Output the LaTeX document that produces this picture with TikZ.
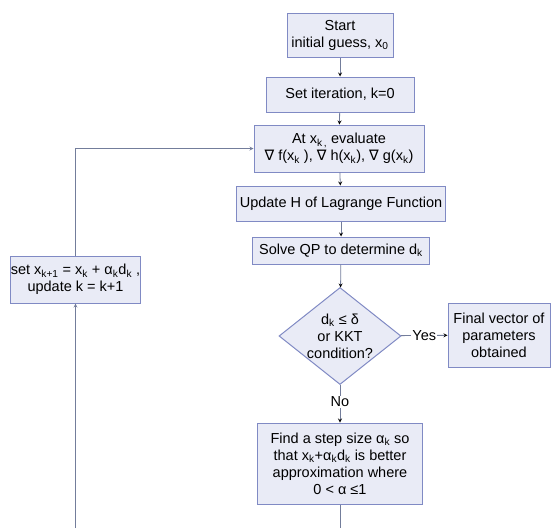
\documentclass[tikz,border=0pt]{standalone}
\usepackage{fontspec}
\setmainfont{Liberation Sans}
\newfontfamily\symfont{DejaVu Sans}
\usetikzlibrary{shapes,arrows}
\tikzset{
	->,
	>=stealth,
	x=1pt, y=-1pt,
	every node/.style={font=\fontsize{14.5}{17}\selectfont},
	process/.style={draw=boxline, line width=1pt, fill=boxfill, align=center, inner sep=0pt},
	decision/.style={diamond, draw=boxline, line width=1pt, fill=boxfill, align=center,
		inner sep=-12pt, minimum width=122pt, minimum height=97pt},
	link/.style={draw=linkcol, line width=0.8pt},
	tag/.style={fill=white, inner sep=1pt},
}
\definecolor{boxfill}{RGB}{233,235,246}
\definecolor{boxline}{RGB}{128,138,196}
\definecolor{linkcol}{RGB}{115,125,155}
\newcommand{\sbk}[1]{\textsubscript{#1}}
\newcommand{\nab}{{\symfont ∇}}

\begin{document}
\begin{tikzpicture}
	\useasboundingbox (0,0) rectangle (552,528);
	\node[process, minimum width=106pt, minimum height=44pt] (start) at (340,35) {Start\\initial guess, x\sbk{0}};
	\node[process, minimum width=148pt, minimum height=35pt] (init) at (340,94.5) {Set iteration, k=0};
	\node[process, minimum width=170pt, minimum height=47pt] (eval) at (339,148.5) {At x\sbk{k\,,} evaluate\\\nab\ f(x\sbk{k} ),\ \nab\ h(x\sbk{k}),\ \nab\ g(x\sbk{k})};
	\node[process, minimum width=209pt, minimum height=35pt] (hess) at (341,203.5) {Update H of Lagrange Function};
	\node[process, minimum width=177pt, minimum height=27pt] (qp) at (341,250.5) {Solve QP to determine d\sbk{k}};
	\node[decision] (dec) at (340,336) {d\sbk{k} ≤ δ\\or KKT\\condition?};
	\node[process, minimum width=102pt, minimum height=64pt] (final) at (499,335) {Final vector of\\parameters\\obtained};
	\node[process, minimum width=165pt, minimum height=81pt] (step) at (340,463.5) {Find a step size α\sbk{k} so\\that x\sbk{k}+α\sbk{k}d\sbk{k} is better\\approximation where\\0 < α ≤1};
	\node[process, minimum width=129pt, minimum height=47pt] (upd) at (75.5,279.5) {set x\sbk{k+1} = x\sbk{k} + α\sbk{k}d\sbk{k} ,\\update k = k+1};
	\coordinate (sbot) at (340,528);
	\coordinate (lbot) at (75.5,528);

	\draw[link] (start) edge (init)
	(init) edge (eval)
	(eval) edge (hess)
	(hess) edge (qp)
	(qp) edge (dec)
	(dec) edge node[tag]{Yes} (final)
	(dec) edge node[tag, pos=0.45]{No} (step);
	\draw[link, -] (step) -- (sbot);
	\draw[link] (lbot) -- (upd);
	\draw[link] (upd) |- (eval);
\end{tikzpicture}
\end{document}
